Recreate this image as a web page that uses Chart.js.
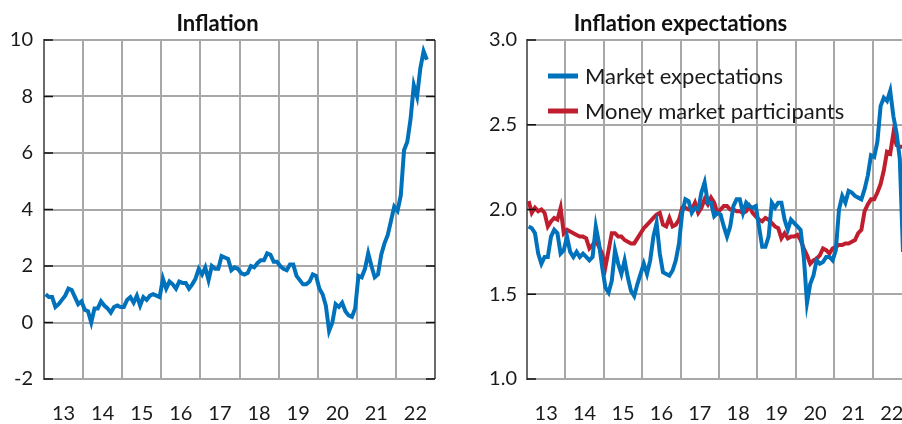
<html>
<head>
  <title>Inflation and inflation expectations</title>
  <style>
    body { margin: 0; width: 902px; height: 424px; overflow: hidden; background: #fff; position: relative; }
    canvas { position: absolute; top: 0; }
  </style>
</head>
<body>
  <canvas id="left" width="466" height="424" style="left:0;width:466px;height:424px"></canvas>
  <canvas id="right" width="520" height="424" style="left:450px;width:520px;height:424px"></canvas>
  <script src="https://cdn.jsdelivr.net/npm/chart.js"></script>
  <script>
    // monthly series, first value = Jan 2013
    const startYear = 2013;
    const yearLabels = ['13', '14', '15', '16', '17', '18', '19', '20', '21', '22'];

    const inflation = [
      1.0, 0.9, 0.9, 0.55, 0.65, 0.8, 0.95, 1.2, 1.15, 0.9, 0.65, 0.75,
      0.45, 0.4, 0.0, 0.5, 0.5, 0.75, 0.6, 0.5, 0.35, 0.55, 0.6, 0.55,
      0.55, 0.8, 0.9, 0.7, 0.95, 0.6, 0.9, 0.8, 0.95, 1.0, 0.95, 0.9,
      1.55, 1.2, 1.45, 1.35, 1.2, 1.45, 1.4, 1.4, 1.2, 1.35, 1.55, 1.9,
      1.7, 1.95, 1.5, 2.0, 1.9, 1.9, 2.35, 2.3, 2.25, 1.85, 1.95, 1.9,
      1.75, 1.7, 1.75, 2.0, 1.95, 2.1, 2.2, 2.2, 2.45, 2.4, 2.15, 2.15,
      2.0, 1.9, 1.85, 2.05, 2.05, 1.65, 1.5, 1.35, 1.35, 1.45, 1.7, 1.65,
      1.2, 1.0, 0.6, -0.3, 0.0, 0.65, 0.55, 0.7, 0.4, 0.25, 0.2, 0.5,
      1.65, 1.6, 1.9, 2.45, 2.0, 1.6, 1.7, 2.4, 2.8, 3.1, 3.6, 4.1,
      3.95, 4.5, 6.1, 6.4, 7.2, 8.4, 8.0, 9.0, 9.6, 9.3
    ];

    const marketExp = [
      1.90, 1.89, 1.86, 1.74, 1.68, 1.72, 1.72, 1.84, 1.88, 1.86, 1.74, 1.76,
      1.84, 1.75, 1.72, 1.75, 1.72, 1.74, 1.72, 1.70, 1.72, 1.90, 1.80, 1.66,
      1.54, 1.51, 1.58, 1.76, 1.68, 1.62, 1.70, 1.60, 1.52, 1.49, 1.56, 1.62,
      1.68, 1.62, 1.70, 1.84, 1.92, 1.74, 1.63, 1.62, 1.61, 1.64, 1.70, 1.80,
      1.98, 2.06, 2.05, 1.98, 2.01, 2.00, 2.10, 2.16, 2.04, 2.04, 1.96, 1.98,
      1.97, 1.90, 1.84, 1.90, 2.02, 2.06, 2.06, 1.98, 2.04, 2.02, 2.01, 2.02,
      1.90, 1.78, 1.78, 1.84, 2.04, 2.01, 2.04, 2.04, 1.94, 1.88, 1.94, 1.92,
      1.90, 1.88, 1.72, 1.45, 1.56, 1.61, 1.70, 1.68, 1.69, 1.72, 1.72, 1.70,
      1.76, 2.00, 2.08, 2.04, 2.11, 2.10, 2.08, 2.07, 2.06, 2.12, 2.20, 2.32,
      2.31, 2.40, 2.61, 2.66, 2.64, 2.70, 2.55, 2.45, 2.30, 1.75
    ];

    const moneyMarket = [
      2.05, 1.98, 2.01, 1.99, 2.00, 1.98, 1.90, 1.93, 1.95, 1.94, 2.01, 1.86,
      1.88, 1.87, 1.86, 1.85, 1.84, 1.84, 1.83, 1.77, 1.79, 1.82, 1.78, 1.74,
      1.66, 1.76, 1.86, 1.86, 1.84, 1.84, 1.82, 1.81, 1.80, 1.80, 1.83, 1.86,
      1.89, 1.91, 1.93, 1.95, 1.97, 1.98, 1.91, 1.90, 1.95, 1.90, 1.91, 1.94,
      2.01, 2.01, 2.00, 2.00, 2.04, 1.98, 2.01, 2.06, 2.03, 2.07, 2.04, 1.98,
      2.00, 2.02, 2.02, 2.00, 2.00, 1.99, 1.99, 1.98, 1.99, 2.02, 1.98, 1.96,
      1.94, 1.93, 1.95, 1.94, 1.92, 1.90, 1.89, 1.83, 1.86, 1.83, 1.84, 1.84,
      1.85, 1.82, 1.77, 1.73, 1.68, 1.70, 1.71, 1.73, 1.77, 1.76, 1.74, 1.77,
      1.78, 1.79, 1.79, 1.80, 1.80, 1.81, 1.82, 1.86, 1.88, 1.99, 2.03, 2.06,
      2.06, 2.10, 2.15, 2.23, 2.34, 2.33, 2.45, 2.38, 2.37, 2.37
    ];

    const FONT = 'Lato, "Open Sans", sans-serif';
    const BLUE = '#0071bb';
    const RED = '#bf1e2e';
    const GRID = '#a8a8a8';

    function toPoints(values) {
      return values.map((v, i) => ({ x: startYear + (i + 0.5) / 12, y: v }));
    }

    // gridlines at year boundaries, labels in the middle of each year
    const xTicks = [];
    yearLabels.forEach((lab, i) => {
      xTicks.push(startYear + i + 0.5);
      if (i < yearLabels.length - 1) xTicks.push(startYear + i + 1);
    });

    // light grid, painted underneath everything already drawn
    const gridUnder = {
      id: 'gridUnder',
      afterDraw(chart) {
        const ctx = chart.ctx, a = chart.chartArea, x = chart.scales.x, y = chart.scales.y;
        ctx.save();
        ctx.globalCompositeOperation = 'destination-over';
        ctx.strokeStyle = GRID;
        ctx.lineWidth = 2;
        ctx.beginPath();
        x.ticks.forEach(t => {
          if (!Number.isInteger(t.value)) return;
          const px = Math.round(x.getPixelForValue(t.value));
          ctx.moveTo(px, a.top);
          ctx.lineTo(px, a.bottom);
        });
        y.ticks.forEach(t => {
          const py = Math.round(y.getPixelForValue(t.value));
          ctx.moveTo(a.left, py);
          ctx.lineTo(a.right, py);
        });
        ctx.stroke();
        ctx.restore();
      }
    };

    // dark axis frame with inward pointing ticks
    const frame = {
      id: 'frame',
      afterDraw(chart, args, opts) {
        const ctx = chart.ctx, a = chart.chartArea, y = chart.scales.y;
        ctx.save();
        if (opts.right) {
          ctx.strokeStyle = '#6b6b6b';
          ctx.lineWidth = 2;
          ctx.beginPath();
          ctx.moveTo(a.right, a.top);
          ctx.lineTo(a.right, a.bottom);
          ctx.stroke();
        }
        ctx.strokeStyle = '#111';
        ctx.lineWidth = 1.5;
        y.ticks.forEach(t => {
          const py = y.getPixelForValue(t.value);
          ctx.beginPath();
          ctx.moveTo(a.left, py);
          ctx.lineTo(a.left + 9, py);
          if (opts.right) {
            ctx.moveTo(a.right, py);
            ctx.lineTo(a.right - 9, py);
          }
          ctx.stroke();
        });
        ctx.restore();
      }
    };

    // legend drawn inside the plot area
    const innerLegend = {
      id: 'innerLegend',
      afterDraw(chart, args, opts) {
        if (!opts.show) return;
        const ctx = chart.ctx, a = chart.chartArea;
        ctx.save();
        ctx.font = '22px ' + FONT;
        ctx.textBaseline = 'middle';
        chart.data.datasets.forEach((ds, i) => {
          const yy = a.top + 36 + i * 35;
          ctx.strokeStyle = ds.borderColor;
          ctx.lineWidth = 5;
          ctx.beginPath();
          ctx.moveTo(a.left + 21, yy);
          ctx.lineTo(a.left + 51, yy);
          ctx.stroke();
          ctx.fillStyle = '#1a1a1a';
          ctx.fillText(ds.label, a.left + 58, yy + 1);
        });
        ctx.restore();
      }
    };

    function makeChart(id, title, datasets, yOpts, axisWidth, padRight, rightFrame, legend) {
      return new Chart(document.getElementById(id), {
        type: 'line',
        data: { datasets: datasets },
        options: {
          responsive: false,
          animation: false,
          layout: { padding: { left: 0, right: padRight, top: 0, bottom: 0 } },
          elements: { point: { radius: 0 }, line: { borderWidth: 4, tension: 0 } },
          scales: {
            x: {
              type: 'linear',
              min: startYear,
              max: startYear + yearLabels.length,
              afterBuildTicks: s => { s.ticks = xTicks.map(v => ({ value: v })); },
              afterFit: s => { s.height = 45; },
              border: { display: false },
              grid: { display: false, drawTicks: false },
              ticks: {
                autoSkip: false,
                maxRotation: 0,
                padding: 25,
                color: '#1a1a1a',
                font: { family: FONT, size: 20, lineHeight: 1 },
                callback: v => Number.isInteger(v) ? '' : yearLabels[Math.floor(v) - startYear]
              }
            },
            y: Object.assign({
              afterFit: s => { s.width = axisWidth; },
              border: { display: true, color: '#6b6b6b', width: 2 },
              grid: { display: false, drawTicks: false },
            }, yOpts)
          },
          plugins: {
            legend: { display: false },
            tooltip: { enabled: false },
            title: {
              display: true,
              text: title,
              color: '#111',
              font: { family: FONT, size: 22, weight: 'bold', lineHeight: 1 },
              padding: { top: 13, bottom: 5 }
            },
            frame: { right: rightFrame },
            innerLegend: { show: legend }
          }
        },
        plugins: [gridUnder, frame, innerLegend]
      });
    }

    makeChart('left', 'Inflation', [
      { label: 'Inflation', data: toPoints(inflation), borderColor: BLUE, backgroundColor: BLUE }
    ], {
      min: -2, max: 10,
      ticks: { stepSize: 2, padding: 11, color: '#1a1a1a', font: { family: FONT, size: 20 } }
    }, 44, 31, true, false);

    makeChart('right', 'Inflation expectations', [
      { label: 'Market expectations', data: toPoints(marketExp), borderColor: BLUE, backgroundColor: BLUE },
      { label: 'Money market participants', data: toPoints(moneyMarket), borderColor: RED, backgroundColor: RED }
    ], {
      min: 1, max: 3,
      ticks: { stepSize: 0.5, padding: 10, color: '#1a1a1a', font: { family: FONT, size: 20 }, callback: v => v.toFixed(1) }
    }, 77, 59, false, true);
  </script>
</body>
</html>
